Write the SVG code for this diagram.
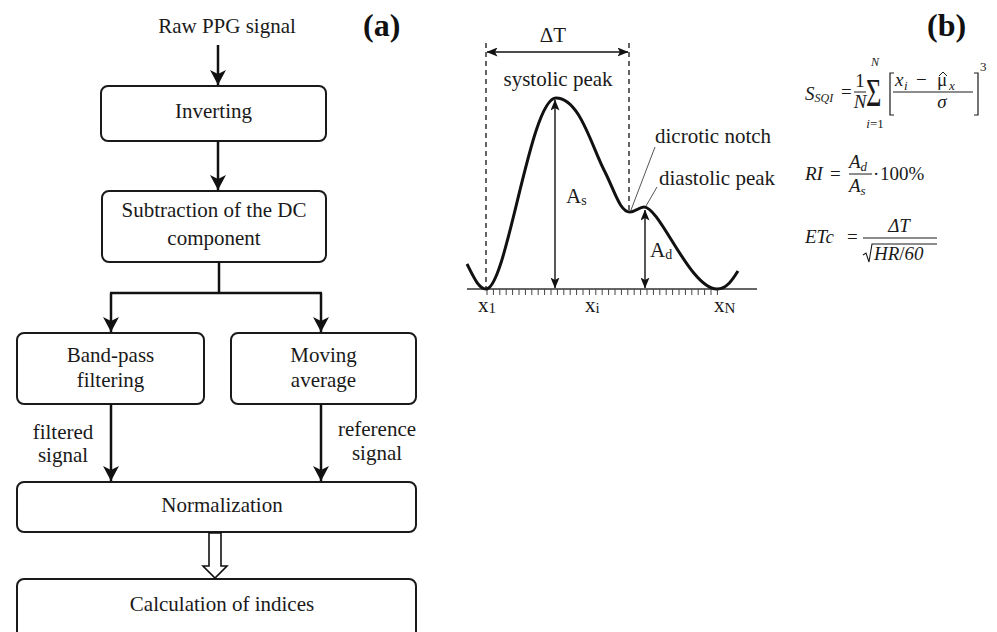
<svg xmlns="http://www.w3.org/2000/svg" width="997" height="632" viewBox="0 0 997 632">
<defs>
<style>
.t{font-family:"Liberation Serif","Times New Roman",serif;font-size:21px;fill:#1a1a1a}
.c{text-anchor:middle}
.box{fill:#fff;stroke:#1a1a1a;stroke-width:2}
.ar{stroke:#111;stroke-width:2.5;fill:none}
.thin{stroke:#111;stroke-width:1.4;fill:none}
.m{font-family:"Liberation Serif","DejaVu Serif",serif;font-style:italic;font-size:19px;fill:#1a1a1a}
.mu{font-family:"Liberation Serif","DejaVu Serif",serif;font-size:19px;fill:#1a1a1a}
.lbl{font-family:"Liberation Serif","Times New Roman",serif;font-weight:bold;font-size:32px;fill:#111}
</style>
<marker id="ah" markerUnits="userSpaceOnUse" markerWidth="16" markerHeight="16" viewBox="0 0 16 16" refX="15" refY="8" orient="auto">
<path d="M0,0 L15,8 L0,16 L4,8 Z" fill="#111"/>
</marker>
<marker id="sa" markerUnits="userSpaceOnUse" markerWidth="11" markerHeight="9" viewBox="0 0 11 9" refX="10.5" refY="4.5" orient="auto-start-reverse">
<path d="M0,0 L11,4.5 L0,9 L2.5,4.5 Z" fill="#111"/>
</marker>
</defs>
<rect width="997" height="632" fill="#fff"/>

<!-- panel (a) -->
<text class="lbl" x="363" y="36">(a)</text>
<g id="raw"><text class="t c" x="227" y="33">Raw PPG signal</text></g>
<g id="inverting">
<rect class="box" x="101" y="86" width="225" height="55" rx="7"/>
<text class="t c" x="213.5" y="118">Inverting</text>
</g>
<g id="subtraction">
<rect class="box" x="102" y="191" width="224" height="71" rx="7"/>
<text class="t c" x="214" y="217">Subtraction of the DC</text>
<text class="t c" x="214" y="245">component</text>
</g>
<g id="bandpass">
<rect class="box" x="17" y="333" width="187" height="71" rx="7"/>
<text class="t c" x="110.5" y="362">Band-pass</text>
<text class="t c" x="110.5" y="387">filtering</text>
</g>
<g id="moving">
<rect class="box" x="231" y="333" width="185" height="71" rx="7"/>
<text class="t c" x="323.5" y="362">Moving</text>
<text class="t c" x="323.5" y="387">average</text>
</g>
<g id="normalization">
<rect class="box" x="17" y="482" width="399" height="50" rx="7"/>
<text class="t c" x="222" y="512">Normalization</text>
</g>
<g id="calculation">
<rect class="box" x="17" y="579" width="399" height="70" rx="7"/>
<text class="t c" x="222" y="611">Calculation of indices</text>
</g>
<g id="connectors">
<line class="ar" x1="218" y1="45" x2="218" y2="85" marker-end="url(#ah)"/>
<line class="ar" x1="218" y1="141" x2="218" y2="190" marker-end="url(#ah)"/>
<polyline class="ar" points="219,262 219,293"/>
<polyline class="ar" points="110,293 322,293"/>
<line class="ar" x1="111" y1="293" x2="111" y2="332" marker-end="url(#ah)"/>
<line class="ar" x1="321" y1="293" x2="321" y2="332" marker-end="url(#ah)"/>
<line class="ar" x1="111" y1="404" x2="111" y2="481" marker-end="url(#ah)"/>
<line class="ar" x1="321" y1="404" x2="321" y2="481" marker-end="url(#ah)"/>
<path d="M209,533 L221,533 L221,566 L227,566 L215,578 L203,566 L209,566 Z" fill="#fff" stroke="#111" stroke-width="1.6"/>
<text class="t c" x="63" y="439">filtered</text>
<text class="t c" x="63" y="462">signal</text>
<text class="t c" x="377" y="436">reference</text>
<text class="t c" x="377" y="460">signal</text>
</g>

<!-- panel (b) waveform -->
<text class="lbl" x="927" y="36">(b)</text>
<g id="waveform">
<line x1="467" y1="289" x2="757" y2="289" stroke="#333" stroke-width="1.3"/>
<path d="M487,289v6M493.4,289v6M499.8,289v6M506.2,289v6M512.6,289v6M519,289v6M525.4,289v6M531.8,289v6M538.2,289v6M544.6,289v6M551,289v6M557.4,289v6M563.8,289v6M570.2,289v6M576.6,289v6M583,289v6M589.4,289v6M595.8,289v6M602.2,289v6M608.6,289v6M615,289v6M621.4,289v6M627.8,289v6M634.2,289v6M640.6,289v6M647,289v6M653.4,289v6M659.8,289v6M666.2,289v6M672.6,289v6M679,289v6M685.4,289v6M691.8,289v6M698.2,289v6M704.6,289v6M711,289v6M717.4,289v6" stroke="#444" stroke-width="1"/>
<line x1="486" y1="43" x2="486" y2="289" stroke="#111" stroke-width="1.3" stroke-dasharray="5,4"/>
<line x1="629" y1="43" x2="629" y2="210" stroke="#111" stroke-width="1.3" stroke-dasharray="5,4"/>
<line class="thin" x1="487" y1="52" x2="628" y2="52" marker-start="url(#sa)" marker-end="url(#sa)"/>
<line class="thin" x1="555" y1="100" x2="555" y2="288" marker-start="url(#sa)" marker-end="url(#sa)"/>
<line class="thin" x1="645" y1="210" x2="645" y2="288" marker-start="url(#sa)" marker-end="url(#sa)"/>
<path d="M467,264 C474,278 479,289 486,289 C507,289 530,98 556,98 C580,98 592,148 605,172 C615,192 620,212 630,212 C636,212 639,207 644,207 C660,207 690,289 717,289 C727,289 733,279 738,271" fill="none" stroke="#111" stroke-width="3"/>
<line x1="655" y1="147" x2="631" y2="210" stroke="#555" stroke-width="1"/>
<line x1="657" y1="187" x2="646" y2="206" stroke="#555" stroke-width="1"/>
<text class="t c" x="553" y="42">ΔT</text>
<text class="t c" x="558" y="86">systolic peak</text>
<text class="t" x="655" y="143">dicrotic notch</text>
<text class="t" x="659" y="185">diastolic peak</text>
<text class="t" x="566" y="203">A<tspan font-size="14" dy="2">s</tspan></text>
<text class="t" x="650" y="257">A<tspan font-size="14" dy="2">d</tspan></text>
<text class="t" x="478" y="312">x<tspan font-size="15" dy="1">1</tspan></text>
<text class="t" x="585" y="312">x<tspan font-size="15" dy="1">i</tspan></text>
<text class="t" x="714" y="312">x<tspan font-size="15" dy="1">N</tspan></text>
</g>

<!-- formulas -->
<g id="formula-ssqi">
<text class="m" x="805" y="100">S<tspan font-size="12" dy="2">SQI</tspan></text>
<text class="mu" x="841" y="98">=</text>
<text class="mu c" x="860" y="87">1</text>
<line x1="854" y1="92" x2="866" y2="92" stroke="#1a1a1a" stroke-width="1"/>
<text class="m c" x="860" y="108">N</text>
<text class="mu" transform="translate(866,106) scale(1.1,1.7)" x="0" y="0" style="font-size:24px">Σ</text>
<text class="m c" x="875" y="66" style="font-size:12px">N</text>
<text class="m c" x="875" y="128" style="font-size:13px">i<tspan font-style="normal">=1</tspan></text>
<path d="M894,73 H890 V115 H894 M974,73 H978 V115 H974" fill="none" stroke="#1a1a1a" stroke-width="1.2"/>
<text class="m" x="895" y="86">x</text>
<text class="m" x="904" y="90" style="font-size:13px">i</text>
<text class="mu" x="916" y="86">−</text>
<text class="mu" x="937" y="86">μ</text>
<path d="M939,76 L943,72 L947,76" fill="none" stroke="#1a1a1a" stroke-width="1"/>
<text class="m" x="949" y="90" style="font-size:13px">x</text>
<line x1="893" y1="92" x2="973" y2="92" stroke="#1a1a1a" stroke-width="1"/>
<text class="m c" x="942" y="108">σ</text>
<text class="mu" x="980" y="71" style="font-size:13px">3</text>
</g>
<g id="formula-ri">
<text class="m" x="805" y="180">RI</text>
<text class="mu" x="830" y="180">=</text>
<text class="m" x="849" y="168">A<tspan font-size="13" dy="3">d</tspan></text>
<line x1="849" y1="174" x2="872" y2="174" stroke="#1a1a1a" stroke-width="1"/>
<text class="m" x="849" y="192">A<tspan font-size="13" dy="3">s</tspan></text>
<text class="mu" x="873" y="180">·</text>
<text class="mu" x="880" y="180">100%</text>
</g>
<g id="formula-etc">
<text class="m" x="805" y="243">ETc</text>
<text class="mu" x="847" y="243">=</text>
<text class="m c" x="899" y="232">ΔT</text>
<line x1="863" y1="238" x2="937" y2="238" stroke="#1a1a1a" stroke-width="1"/>
<path d="M863,255 L866,253 L869,262 L872,244 H937" fill="none" stroke="#1a1a1a" stroke-width="1.1"/>
<text class="m" x="874" y="260">HR<tspan font-style="normal">/</tspan>60</text>
</g>
</svg>
